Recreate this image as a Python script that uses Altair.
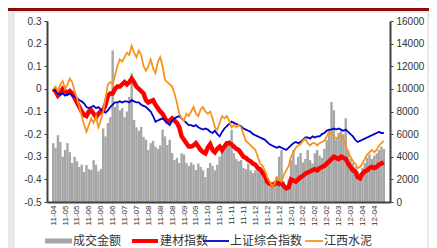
import altair as alt
import pandas as pd

# ---------------- data ----------------
x_labels = ["11-04", "11-05", "11-05", "11-06", "11-06", "11-06", "11-07", "11-07",
            "11-08", "11-08", "11-08", "11-09", "11-09", "11-10", "11-10", "11-11",
            "11-11", "11-12", "11-12", "11-12", "12-01", "12-02", "12-02", "12-02",
            "12-03", "12-03", "12-04", "12-04"]

series_names = ["成交金额", "建材指数", "上证综合指数", "江西水泥"]

# 成交金额 (right axis)
amount = [5200, 4800, 5900, 5300, 4000, 4600, 5200, 4400, 3450, 4000,
          3600, 3100, 3300, 2650, 3270, 2900, 2830, 3700, 3300, 2700,
          2900, 6500, 5800, 6980, 7500, 13400, 8400, 8750, 8100, 8300,
          7500, 8000, 9300, 11400, 7250, 6600, 6300, 6630, 5750, 5500,
          4600, 5200, 5400, 4900, 4700, 5000, 6400, 5800, 5040, 5500,
          4330, 3700, 3900, 3450, 4300, 4200, 3450, 3200, 3500, 3300,
          2830, 3400, 3100, 2800, 2200, 3000, 3450, 3200, 2800, 3300,
          4000, 4500, 4860, 5100, 5480, 6360, 4300, 3800, 3600, 3700,
          3000, 2900, 3400, 2800, 2560, 2800, 3000, 2600, 2500, 2200,
          1900, 1330, 1500, 1400, 2200, 4000, 4600, 1800, 1500, 2000,
          3700, 4600, 3300, 4000, 4330, 3500, 3800, 4600, 3700, 3400,
          4300, 4600, 4100, 3900, 4700, 5480, 6360, 8840, 8100, 5500,
          6100, 6300, 6000, 7400, 4600, 3800, 3450, 3100, 2700, 2560,
          3000, 3450, 3900, 4200, 3800, 4100, 4300, 4600, 4900, 4700]

# 建材指数 (left axis)
jiancai = [0.0, -0.01, -0.03, -0.02, 0.0, -0.01, -0.02, -0.01, -0.02, -0.04,
           -0.06, -0.08, -0.1, -0.115, -0.12, -0.1, -0.095, -0.11, -0.125, -0.11,
           -0.1, -0.095, -0.07, -0.03, -0.02, -0.02, 0.0, 0.01, 0.01, 0.02,
           0.03, 0.02, 0.03, 0.045, 0.03, 0.01, 0.0, -0.01, -0.02, -0.05,
           -0.06, -0.055, -0.05, -0.07, -0.085, -0.1, -0.11, -0.13, -0.145, -0.14,
           -0.13, -0.14, -0.15, -0.17, -0.21, -0.225, -0.24, -0.255, -0.255, -0.25,
           -0.24, -0.255, -0.27, -0.28, -0.285, -0.26, -0.245, -0.27, -0.28, -0.265,
           -0.255, -0.27, -0.255, -0.24, -0.24, -0.245, -0.255, -0.265, -0.27, -0.285,
           -0.3, -0.305, -0.315, -0.32, -0.33, -0.335, -0.35, -0.355, -0.37, -0.385,
           -0.41, -0.42, -0.425, -0.42, -0.415, -0.42, -0.415, -0.43, -0.44, -0.435,
           -0.4, -0.405, -0.41, -0.4, -0.39, -0.385, -0.375, -0.37, -0.365, -0.36,
           -0.355, -0.36, -0.35, -0.345, -0.34, -0.33, -0.32, -0.31, -0.3, -0.305,
           -0.31, -0.3, -0.305, -0.31, -0.33, -0.345, -0.36, -0.365, -0.39, -0.395,
           -0.375, -0.365, -0.36, -0.35, -0.345, -0.35, -0.345, -0.335, -0.33, -0.325]

# 上证综合指数 (left axis)
shangzheng = [0.0, -0.01, -0.02, -0.025, -0.02, -0.03, -0.025, -0.02, -0.03, -0.035,
              -0.04, -0.05, -0.055, -0.065, -0.08, -0.085, -0.08, -0.075, -0.085, -0.08,
              -0.09, -0.1, -0.105, -0.095, -0.08, -0.07, -0.06, -0.06, -0.055, -0.06,
              -0.055, -0.055, -0.06, -0.05, -0.055, -0.06, -0.06, -0.07, -0.075, -0.08,
              -0.09, -0.1, -0.12, -0.145, -0.14, -0.135, -0.13, -0.14, -0.15, -0.16,
              -0.14, -0.13, -0.125, -0.12, -0.13, -0.14, -0.15, -0.16, -0.16, -0.165,
              -0.16, -0.17, -0.175, -0.18, -0.175, -0.18, -0.19, -0.195, -0.185, -0.2,
              -0.21, -0.19, -0.175, -0.165, -0.155, -0.145, -0.15, -0.155, -0.16, -0.165,
              -0.175, -0.18, -0.185, -0.19, -0.2, -0.205, -0.21, -0.215, -0.22, -0.225,
              -0.235, -0.245, -0.25, -0.255, -0.26, -0.255, -0.26, -0.265, -0.27, -0.26,
              -0.25, -0.24, -0.235, -0.24, -0.235, -0.225, -0.215, -0.215, -0.22, -0.21,
              -0.215, -0.21, -0.21, -0.2, -0.195, -0.185, -0.18, -0.18, -0.175, -0.18,
              -0.175, -0.18, -0.185, -0.18, -0.19, -0.2, -0.21, -0.225, -0.235, -0.23,
              -0.225, -0.22, -0.215, -0.21, -0.205, -0.2, -0.195, -0.19, -0.195, -0.195]

# 江西水泥 (left axis)
jiangxi = [0.0, 0.01, -0.01, 0.02, 0.035, 0.0, 0.02, 0.045, 0.03, -0.01,
           -0.04, -0.08, -0.12, -0.16, -0.19, -0.16, -0.13, -0.15, -0.12, -0.17,
           -0.14, -0.1, -0.04, 0.02, 0.03, 0.02, 0.06, 0.1, 0.13, 0.12,
           0.14, 0.16, 0.15, 0.19, 0.16, 0.14, 0.17, 0.15, 0.1, 0.08,
           0.1, 0.13, 0.09, 0.07, 0.12, 0.14, 0.1, 0.04, 0.03, 0.02,
           0.01, -0.02, -0.06, -0.11, -0.13, -0.14, -0.11, -0.12, -0.1, -0.08,
           -0.11, -0.12, -0.09, -0.08, -0.1, -0.11, -0.1, -0.13, -0.17, -0.18,
           -0.15, -0.12, -0.13, -0.12, -0.14, -0.17, -0.16, -0.17, -0.16, -0.17,
           -0.2, -0.23, -0.24, -0.25, -0.26, -0.27, -0.3, -0.33, -0.34, -0.36,
           -0.39, -0.41, -0.43, -0.42, -0.39, -0.4, -0.41, -0.38, -0.36, -0.34,
           -0.3, -0.28, -0.26, -0.25, -0.245, -0.23, -0.22, -0.24, -0.25, -0.24,
           -0.24, -0.25, -0.24, -0.235, -0.23, -0.21, -0.19, -0.2, -0.21, -0.22,
           -0.21, -0.2, -0.22, -0.25, -0.28, -0.3, -0.32, -0.33, -0.35, -0.345,
           -0.33, -0.31, -0.29, -0.28, -0.27, -0.28, -0.27, -0.25, -0.24, -0.23]

colors = ["#a6a6a6", "#ff0000", "#0000cc", "#f7941d"]

# ---------------- chart ----------------
n = len(amount)
df = pd.DataFrame({"idx": list(range(n)), "amount": amount, "jc": jiancai,
                   "sz": shangzheng, "jx": jiangxi})
one = pd.DataFrame({"k": [0]})

W, H = 343, 181
AXC = "#404040"
FONT = "Liberation Sans"
CJK = "Noto Sans CJK SC"

label_arr = "[" + ",".join("'%s'" % s for s in x_labels) + "]"
xscale = alt.Scale(domain=[-0.5, n - 0.5], nice=False, zero=False)
xaxis = alt.Axis(values=list(range(0, 5 * len(x_labels), 5)),
                 labelExpr=label_arr + "[round(datum.value/5)]",
                 labelAngle=270, ticks=False, title=None, grid=False,
                 labelFontSize=8, labelPadding=3, labelColor="#333333",
                 labelFont=FONT, domainColor=AXC, domainWidth=2,
                 labelOverlap=False, zindex=1)
X = alt.X("idx:Q", scale=xscale, axis=xaxis)

yl_scale = alt.Scale(domain=[-0.5, 0.3], nice=False, zero=False)
yl_axis = alt.Axis(orient="left", values=[0.3, 0.2, 0.1, 0, -0.1, -0.2, -0.3, -0.4, -0.5],
                   labelExpr="toString(round(datum.value*10)/10)", title=None,
                   grid=False, tickSize=3, tickColor=AXC, domainColor=AXC,
                   domainWidth=2, labelFontSize=10, labelColor="#333333",
                   labelFont=FONT, labelPadding=3, zindex=1)
yr_scale = alt.Scale(domain=[0, 16000], nice=False)
yr_axis = alt.Axis(orient="right", values=list(range(0, 16001, 2000)), format="d",
                   title=None, grid=False, tickSize=3, tickColor=AXC,
                   domainColor=AXC, domainWidth=2, labelFontSize=10,
                   labelColor="#333333", labelFont=FONT, labelPadding=3, zindex=1)

# decorative frame
panel = alt.Chart(one).mark_rect(color="white").encode(
    x=alt.value(-32), x2=alt.value(380), y=alt.value(-8), y2=alt.value(230))
topbar = alt.Chart(one).mark_rect(color="#8c0a0a").encode(
    x=alt.value(-40), x2=alt.value(383), y=alt.value(-13), y2=alt.value(-10))

bars = alt.Chart(df).mark_bar(size=2.4, color=colors[0]).encode(
    x=X, y=alt.Y("amount:Q", scale=yr_scale, axis=yr_axis))

l_jc = alt.Chart(df).mark_line(color=colors[1], strokeWidth=4.5).encode(
    x=X, y=alt.Y("jc:Q", scale=yl_scale, axis=yl_axis))
l_sz = alt.Chart(df).mark_line(color=colors[2], strokeWidth=1.8).encode(
    x=X, y=alt.Y("sz:Q", scale=yl_scale, axis=yl_axis))
l_jx = alt.Chart(df).mark_line(color=colors[3], strokeWidth=1.8).encode(
    x=X, y=alt.Y("jx:Q", scale=yl_scale, axis=yl_axis))
lines = alt.layer(l_jc, l_sz, l_jx)

# manual legend (bottom)
LY = 220
leg = [
    alt.Chart(one).mark_rect(color=colors[0]).encode(
        x=alt.value(-2), x2=alt.value(25), y=alt.value(LY - 2.5), y2=alt.value(LY + 2.5)),
    alt.Chart(one).mark_rule(color=colors[1], strokeWidth=4).encode(
        x=alt.value(85), x2=alt.value(111), y=alt.value(LY)),
    alt.Chart(one).mark_rule(color=colors[2], strokeWidth=1.8).encode(
        x=alt.value(156), x2=alt.value(182), y=alt.value(LY)),
    alt.Chart(one).mark_rule(color=colors[3], strokeWidth=1.8).encode(
        x=alt.value(258), x2=alt.value(276), y=alt.value(LY)),
]
text_x = [26, 113, 183, 277]
for name, tx in zip(series_names, text_x):
    leg.append(alt.Chart(one).mark_text(align="left", baseline="middle", font=CJK,
                                        fontSize=12, color="#333333", text=name).encode(
        x=alt.value(tx), y=alt.value(LY)))

chart = alt.layer(panel, topbar, bars, lines, *leg).resolve_scale(
    y="independent"
).properties(
    width=W, height=H,
    autosize=alt.AutoSizeParams(type="none"),
    padding={"left": 39, "top": 13, "right": 39, "bottom": 46},
    background="#e8e8e8",
).configure_view(strokeWidth=0)

chart.save("out.html", embed_options={"renderer": "svg", "actions": False})
